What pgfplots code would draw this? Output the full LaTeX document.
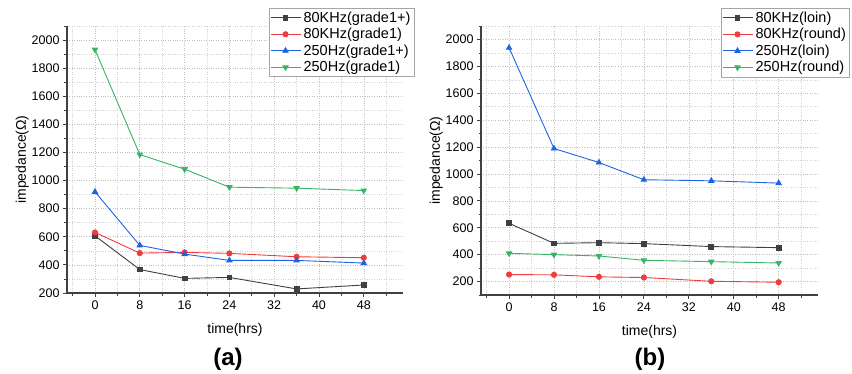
\documentclass[border=0pt]{standalone}
\usepackage{pgfplots}
\pgfplotsset{compat=1.18}
\usepackage{fontspec}
\setmainfont{Liberation Sans}
\definecolor{cblk}{RGB}{64,64,64}
\definecolor{cred}{RGB}{240,60,60}
\definecolor{cblu}{RGB}{30,100,225}
\definecolor{cgrn}{RGB}{55,180,100}
\pgfplotsset{
  myax/.style={
    scale only axis,
    axis x line*=bottom, axis y line*=left,
    axis line style={draw=cblk, line width=1.1pt, -},
    xmin=-5, xmax=55,
    xtick={0,8,16,24,32,40,48},
    minor xtick={-4,4,12,20,28,36,44,52},
    ytick={200,400,...,2000},
    ymax=2100,
    tick align=outside,
    major tick length=4pt, minor tick length=2.5pt,
    every tick/.style={draw=cblk, line width=0.8pt},
    grid=both,
    major grid style={dotted, gray!50, line width=0.6pt},
    minor grid style={dotted, gray!35, line width=0.6pt},
    tick label style={font=\fontsize{12.5}{14}\selectfont},
    /pgf/number format/assume math mode=true,
    /pgf/number format/set thousands separator={},
    xlabel={time(hrs)}, ylabel={impedance(Ω)},
    label style={font=\fontsize{14}{16}\selectfont},
    legend style={font=\fontsize{14.5}{16}\selectfont, draw=gray!70, line width=0.8pt,
       anchor=north west, inner sep=1.5pt, row sep=0.5pt, fill=white},
    legend cell align=left,
    legend image code/.code={\draw[mark repeat=2,mark phase=2] plot coordinates {(0cm,0cm)(0.5cm,0cm)(1.05cm,0cm)};},
    every axis plot/.append style={line width=0.9pt},
  },
}
\begin{document}
\begin{tikzpicture}[x=1pt,y=1pt]
\begin{axis}[myax, at={(67pt,80pt)}, anchor=south west, width=336pt, height=267pt,
  ymin=200, minor ytick={300,500,...,2100},
  xlabel style={yshift=-7pt}, ylabel style={yshift=-4pt},
  legend style={at={(0.601,1.068)}}]
\addplot[cblk, mark=square*, mark size=2.4pt] coordinates {(0,607)(8,367)(16,304)(24,311)(36,229)(48,257)};
\addplot[cred, mark=*, mark size=2.6pt] coordinates {(0,631)(8,484)(16,489)(24,482)(36,458)(48,451)};
\addplot[cblu, mark=triangle*, mark size=3pt] coordinates {(0,920)(8,539)(16,477)(24,432)(36,432)(48,413)};
\addplot[cgrn, mark=triangle*, mark options={rotate=180}, mark size=3pt] coordinates {(0,1932)(8,1185)(16,1081)(24,953)(36,946)(48,929)};
\legend{80KHz(grade1+),80KHz(grade1),250Hz(grade1+),250Hz(grade1)}
\end{axis}
\begin{axis}[myax, at={(481pt,78pt)}, anchor=south west, width=337pt, height=269pt,
  ymin=100, minor ytick={100,300,...,2100},
  xlabel style={yshift=-7pt}, ylabel style={yshift=-4pt},
  legend style={at={(0.712,1.067)}}]
\addplot[cblk, mark=square*, mark size=2.4pt] coordinates {(0,633)(8,484)(16,489)(24,482)(36,460)(48,452)};
\addplot[cred, mark=*, mark size=2.6pt] coordinates {(0,252)(8,250)(16,235)(24,230)(36,202)(48,195)};
\addplot[cblu, mark=triangle*, mark size=3pt] coordinates {(0,1938)(8,1189)(16,1085)(24,957)(36,949)(48,932)};
\addplot[cgrn, mark=triangle*, mark options={rotate=180}, mark size=3pt] coordinates {(0,410)(8,400)(16,390)(24,358)(36,348)(48,338)};
\legend{80KHz(loin),80KHz(round),250Hz(loin),250Hz(round)}
\end{axis}
\node[font=\bfseries\fontsize{24}{26}\selectfont] at (228pt,14pt) {(a)};
\node[font=\bfseries\fontsize{24}{26}\selectfont] at (650pt,14pt) {(b)};
\pgfresetboundingbox
\path (0pt,0pt) rectangle (852pt,373pt);
\end{tikzpicture}
\end{document}
